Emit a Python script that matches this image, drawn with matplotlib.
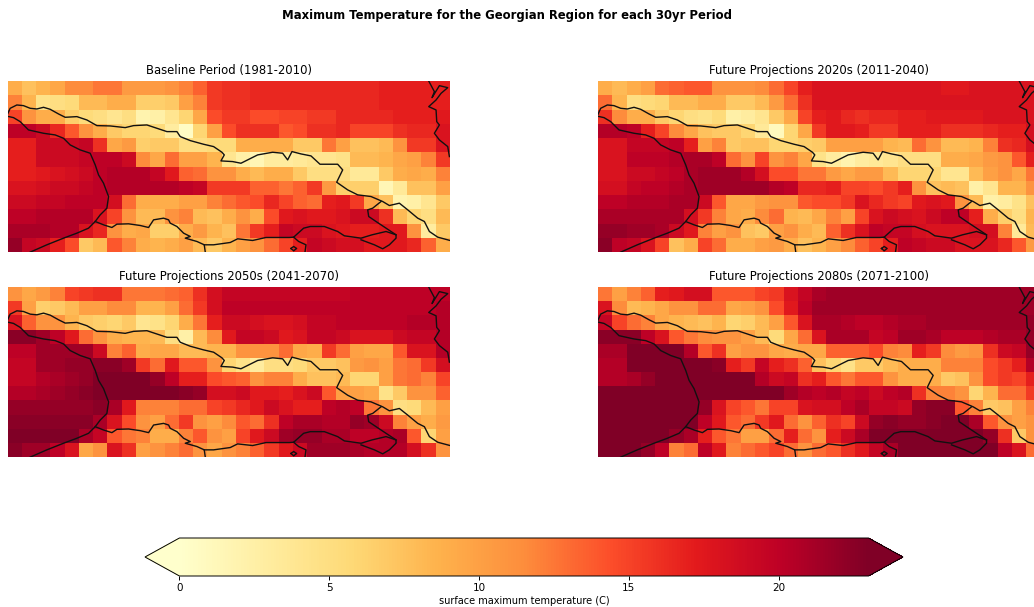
import matplotlib
matplotlib.use("Agg")
import matplotlib.pyplot as plt
import numpy as np

FIG_W, FIG_H = 1034, 607
suptitle = "Maximum Temperature for the Georgian Region for each 30yr Period"
titles = ["Baseline Period (1981-2010)", "Future Projections 2020s (2011-2040)",
          "Future Projections 2050s (2041-2070)", "Future Projections 2080s (2071-2100)"]
cbar_label = "surface maximum temperature (C)"
cbar_ticks = [0, 5, 10, 15, 20]

baseline = [
 [9,7.5,8.5,9.5,11.5,11.5,12.5,12.5,10.5,10.5,10.5,11,12,13.5,15.5,16,16,16.5,16.5,16.5,16.5,16.5,16.5,16.5,16.5,16.5,17,17,17,17,17],
 [12,8.5,4.5,5,5.5,8,8,9,9,6.5,6.5,7,10,12,15.5,16,16,16.5,16.5,16.5,16.5,16.5,16.5,16.5,16.5,16.5,17,17,17,17,17],
 [15,11,9,9,6.5,5.5,5,4,5,2,2.5,4,6,9.5,14.5,15.5,15.5,14.5,14.5,15,15,15.5,15.5,16.5,16.5,16.5,16.5,17,17,17,17.5],
 [20,20,19,16.5,14,11,9,7,6,6,5.5,3,0.5,6,10,14.5,16,16,16,14,14.5,16,16,16.5,15,15,15,16,16.5,16.5,18],
 [17,17,19,19,19,19.5,16,9.5,10.5,6.5,7,7,5,5,5.5,5.5,9,9,9,9,7,7,12.5,10,7.5,7.5,8,11,15.5,15.5,18],
 [17,17,19,19,19,19.5,20,20,19,11.5,9.5,13,10,10,8.5,4,2.5,1.5,3,3,3.5,4,4,4.5,8,8,8.5,9.5,10,12,15.5],
 [17,17,17.5,18,18.5,19,20,20.5,20.5,20.5,19.5,17.5,13.5,13,11,11,9,8,9,9,7,5,5,5,3.5,3.5,7,9,9.5,9,12],
 [18,18,18.5,19,19,19.5,20,20.5,20.5,20.5,20.5,20.5,20,19.5,15.5,15.5,15.5,13.5,13.5,12.5,13.5,15.5,10.5,6.5,6.5,6.5,1.5,3.5,7.5,7.5,10],
 [19,19,19.5,19.5,20,20,20,18.5,13,9,9,9,10,10,12,13,14,14.5,16.5,15,13.5,13,17,17.5,15.5,9.5,7.5,2,2.5,4,7],
 [20,20,20.5,20.5,20.5,20.5,18,15,11,8,8,11,12,8,7.5,9,11,9,14.5,17.5,18,17.5,17.5,18,19,19,16,8,6,5,8],
 [21,21,21,20.5,20.5,18,16.5,11,9,9.5,6.5,6.5,9,10.5,8.5,7.5,12.5,15.5,17,19.5,19,19,18,17.5,17,17,17.5,17.5,11,3,7],
 [22,19.5,19,17,14.5,7,8,14,12,9,8.5,9,10,8,7,8.5,10,11,13,15,17,19.5,19,18.5,18.5,17.5,17.5,17.5,16.5,13.5,9],
]
future_2020s = [
 [9,8,9,10,13,13.5,14,14,11,11,11,11.5,13,15,17,18,18,18,18,18,18,18,18,18,17.5,17.5,18,18,18,18,18],
 [13,8.5,5,5.5,6,8,8,9,9,7,7,8,10.5,13,16,18,18,18,18,18,18,18,18,18,18,18,18,18,18,18,18],
 [16,11.5,9,9,7,6,5,4.5,5.5,2.5,3,4,7,9.5,15,17,17.5,16.5,16,16.5,16.5,17,17,17.5,17.5,17.5,17.5,18,18,18,18],
 [20.5,20.5,20,17,15,11.5,9.5,7.5,7,7,6,3.5,1,6,9.5,15.5,17.5,17.5,17,15.5,15.5,17,17,17,16,16,16,16.5,17,17,18.5],
 [18,18,19.5,19.5,19.5,20,17,10,12,7,7.5,7.5,6,6,6.5,7,10,10,10,10,8.5,8,13,11,8,8,8.5,12,16,16.5,18.5],
 [18,18,20,20,20,20.5,21,21,20,13,11,15,11,12,9.5,4.5,3,2,3,3.5,4,5,5,5,9,9,9.5,10.5,11,14,17],
 [18,18,19,19,19.5,20,21,21.5,21.5,21.5,20.5,18.5,14.5,14.5,12.5,12.5,10.5,9.5,10.5,10.5,8,6,6,6,4,4,8,10,11,9.5,12.5],
 [18.5,18.5,19.5,20,20,20.5,21,21.5,21.5,21.5,21.5,21.5,20.5,20,16.5,16.5,17,15,15,14.5,15.5,17,11,7.5,8,7.5,2.5,4,8.5,8.5,11],
 [20,20,20.5,20.5,20.5,21,21,19,14,9.5,9.5,10.5,11,11,14,14.5,14.5,15.5,18,16.5,15.5,15,17.5,18,17.5,11,8,2.5,3,4.5,7.5],
 [21,21,21,21,21,21,18.5,15.5,12,9.5,9,11.5,13,8.5,8,9.5,12,10,15,18,19,18.5,18,19,20,20,17,9,6.5,5,8.5],
 [22,22,21.5,21.5,21,19,17.5,12,10,11,7.5,7,10,11,9,8,13.5,16,18,20,19.5,19.5,18.5,18,18,18,18.5,18.5,12,3.5,8],
 [22.5,20,19.5,18,15,7.5,9,15,13,9,9,10,10.5,9,7.5,8.5,10,11.5,13.5,15,17,20,19.5,19,19,18,18,18,16.5,14,10.5],
]
future_2050s = [
 [11,9.5,10.5,12,15,15.5,16,16,12.5,12.5,12.5,13,13.5,16,18.5,19.5,19.5,19.5,19.5,19.5,19.5,19.5,19.5,19.5,20,20,20,20,20,20,20],
 [15.5,10,6.5,7,8,10,10,11.5,11.5,8.5,8.5,10,13,15.5,18.5,20,20,20,20,20,20,20,20,20,20,20,20,20,20,20,20.5],
 [18,13.5,11,11,8.5,7,6.5,6,7,4,4.5,6,9,12.5,17,19,19,18.5,18,18,18.5,19.5,19.5,20,20,20,20,20,20.5,20.5,20.5],
 [22.5,22.5,21.5,20,17.5,13,11,9,8.5,8.5,8,5,2.5,8,11.5,17.5,19.5,19.5,19,17.5,18,19.5,19.5,19,18,18,18,19,19.5,19.5,20.5],
 [20,20,21.5,21.5,21.5,21.5,19,12,13.5,9,9.5,9.5,8,8,8.5,8.5,11,11,11,13,9.5,9,15.5,13,10,9.5,9.5,14,18,18,20.5],
 [19.5,19.5,21.5,21.5,22,22,22.5,22.5,21.5,15.5,13,17.5,14,14,11,6,4.5,3,5,5,5.5,7,7,7.5,10.5,11,10,12.5,13,15.5,18.5],
 [19.5,19.5,20.5,21,21.5,22,23,23,23,23,22,20,17,17,14.5,14,13.5,11,12,12,9,7.5,7.5,8,6,6,10,12.5,13,12,15],
 [20.5,20.5,21,21.5,22,22.5,23,23,23,23,23,23,22.5,22,18.5,18.5,19,17.5,17.5,17,18,19,14,10,10,9.5,4.5,7,11,11,13.5],
 [22,22,22,22,22,22,22.5,21,17.5,12,12,12,13,13,15,15.5,16.5,17.5,19,18,17,17,20,20.5,20,12.5,11,5,5.5,8,10],
 [22.5,22.5,22.5,22.5,22.5,22.5,21,18,14.5,11,10,13,15.5,11,10,11.5,14,13,16,20,21,21,20.5,20.5,22,21.5,19,12,10,9,10.5],
 [23,23,23,23,23,21,19.5,14,12.5,12,9,9,12,14,11,10,15,17.5,19,21.5,22,22,21,21,20,20,20.5,21,14,6,10],
 [22.5,21.5,21.5,20,18,9.5,11,18,16,10,11,12,13,11,9.5,11,12,13.5,15.5,17.5,19,21.5,21.5,21.5,21,20.5,20.5,20.5,18.5,16,11],
]
future_2080s = [
 [12.5,10,12,13.5,17,17.5,18.5,18.5,14,14,14,15,15.5,18,19.5,21,21.5,21.5,21.5,21.5,21.5,21.5,21.5,21.5,21.5,21.5,21.5,21.5,21.5,21.5,21.5],
 [18,11.5,8,8.5,9.5,11,11,13,13,9.5,10,11,14.5,17.5,20,21.5,21.5,21.5,21.5,21.5,21.5,21.5,21.5,21.5,21.5,21.5,21.5,21.5,21.5,21.5,21.5],
 [19.5,15,13,12,9.5,8.5,8,7.5,8.5,6,6.5,8,10,14,18,21,21,20.5,20,20,20.5,21,21,21.5,21.5,21.5,21.5,21.5,21.5,21.5,22],
 [22.5,22.5,22.5,20,18,14,12.5,11.5,11,11,10,8,5.5,9.5,13,18,21,21,21,19.5,20,21.5,21.5,21,20,20,20,20.5,21,21,22],
 [21,21,23,23,23,23,20.5,14,16,10,11,11,9.5,9,9.5,9.5,13.5,13.5,13.5,14.5,12,11.5,17,15.5,11.5,10.5,11,16,19,19.5,22],
 [20.5,20.5,23,23,23,23,23,23,22.5,17,15.5,19.5,17,16,13.5,7.5,6,4.5,7,7,8,9,9,9,12,12,12,14.5,15.5,17,20.5],
 [20.5,20.5,21,22,23,23,23,23,23,23,23,20.5,19,19.5,16,17,14,12.5,14,14,11,9,9,9,7,7.5,11,14.5,15.5,15,17],
 [23,23,23,23,23,23,23,23,23,23,23,23,23,21.5,20.5,20,20.5,19.5,20,19,20,20.5,16,12,12,11,6,8.5,13,13,15.5],
 [23,23,23,23,23,23,23,22,18,15,14,12.5,15,15,18,18.5,18.5,20,21,19.5,19.5,19,22,22.5,22.5,14,12,7,7.5,10,12],
 [23,23,23,23,23,23,23,20,17.5,14,13,15.5,17.5,13,11,13.5,16,15,19,22,22.5,22,22,22.5,23,23,21,14,11,10,11],
 [23,23,23,23,23,22,21,17,14,12.5,10,10,13,17,13,11,17,19,21,23,23,23,23,23,23,23,23,22,16,7,11],
 [23,23,23,22,20,12,13,20,17.5,12,13,14,15,13,11,13,14,16,17.5,19.5,21,23,23,23,23,23,23,23,20,18,13],
]
periods = [baseline, future_2020s, future_2050s, future_2080s]

# Border outlines traced in grid-cell units (column, row from the top)
def _cells(pts):
    return [(x / 42.8, y / 42.8) for x, y in pts]

border_north = _cells([(0,100),(8,82),(28,72),(48,74),(68,82),(88,84),(108,79),(128,85),(153,99),(173,109),(208,107),(238,117),(268,134),(308,135),(353,140),(378,134),(418,132),(448,142),(478,152),(508,152),(518,167),(548,179),(588,190),(618,197),(643,214),(650,222),(640,240),(675,242),(700,247),(720,237),(750,222),(795,214),(825,217),(840,237),(853,212),(880,219),(910,225),(937,250),(990,250),(1005,267),(987,304),(1020,327),(1050,342),(1090,347),(1125,362),(1145,374),(1175,367),(1200,387),(1230,412),(1250,422),(1265,452),(1290,469),(1327,479)])
border_turkey = _cells([(0,106),(18,110),(38,122),(53,137),(63,147),(108,157),(143,162),(168,172),(188,192),(218,207),(248,217),(263,252),(273,282),(288,307),(303,347),(298,382),(278,402),(263,422),(243,442),(208,457),(168,472),(118,492),(68,514)])
border_south = _cells([(263,422),(288,432),(313,440),(328,430),(363,429),(398,434),(423,440),(438,417),(468,412),(483,417),(488,427),(508,437),(528,457),(548,467),(533,472),(568,482),(590,492),(593,514)])
border_south2 = _cells([(590,492),(618,492),(668,485),(690,474),(735,479),(775,470),(845,470),(858,469),(888,442),(908,437),(950,437),(990,452),(1010,465),(1060,472),(1093,462),(1135,452),(1165,462),(1165,472),(1145,492),(1125,504),(1100,492),(1060,477)])
border_armenia = _cells([(1120,362),(1095,382),(1080,387),(1083,407),(1105,422),(1135,442),(1165,462)])
border_lake = _cells([(858,469),(873,482),(895,492),(892,514)])
lake_loop = _cells([(850,503),(858,497),(867,503),(858,510),(850,503)])
coast_east = _cells([(1263,0),(1280,32),(1273,50),(1295,14),(1320,20),(1300,37),(1285,57),(1263,77),(1285,87),(1287,122),(1295,132),(1280,157),(1295,177),(1320,197),(1325,227)])
borders = [border_north, border_turkey, border_south, border_south2, border_armenia, border_lake, lake_loop, coast_east]

VMIN, VMAX = 0, 23
fig = plt.figure(figsize=(FIG_W / 100, FIG_H / 100), dpi=100)

boxes = [(7.5, 81, 442.5, 171), (598, 81, 442.5, 171), (7.5, 287, 442.5, 170), (598, 287, 442.5, 170)]
mesh = None
for box, data, title in zip(boxes, periods, titles):
    l, t, w, h = box
    ax = fig.add_axes([l / FIG_W, 1 - (t + h) / FIG_H, w / FIG_W, h / FIG_H])
    mesh = ax.pcolormesh(np.arange(32), np.arange(13), np.array(data), cmap="YlOrRd", vmin=VMIN, vmax=VMAX)
    for line in borders:
        xs, ys = zip(*line)
        ax.plot(xs, ys, color="#111111", lw=1.0)
    ax.set_xlim(0, 31)
    ax.set_ylim(12, 0)
    ax.set_xticks([])
    ax.set_yticks([])
    for s in ax.spines.values():
        s.set_visible(False)
    ax.text(0.5, 1.022, title, transform=ax.transAxes, ha="center", va="bottom", fontsize=8.35, color="black")

fig.text(506.5 / FIG_W, 1 - 16 / FIG_H, suptitle, ha="center", va="center", fontsize=8.4, fontweight="bold")

cax = fig.add_axes([145 / FIG_W, 1 - 576 / FIG_H, 758 / FIG_W, 38 / FIG_H])
cb = fig.colorbar(mesh, cax=cax, orientation="horizontal", extend="both", ticks=cbar_ticks)
cb.ax.tick_params(labelsize=7.5, length=3, width=0.7, pad=2)
cb.outline.set_linewidth(0.7)
cb.set_label(cbar_label, fontsize=7, labelpad=2)

fig.savefig("out.png", dpi=100)
